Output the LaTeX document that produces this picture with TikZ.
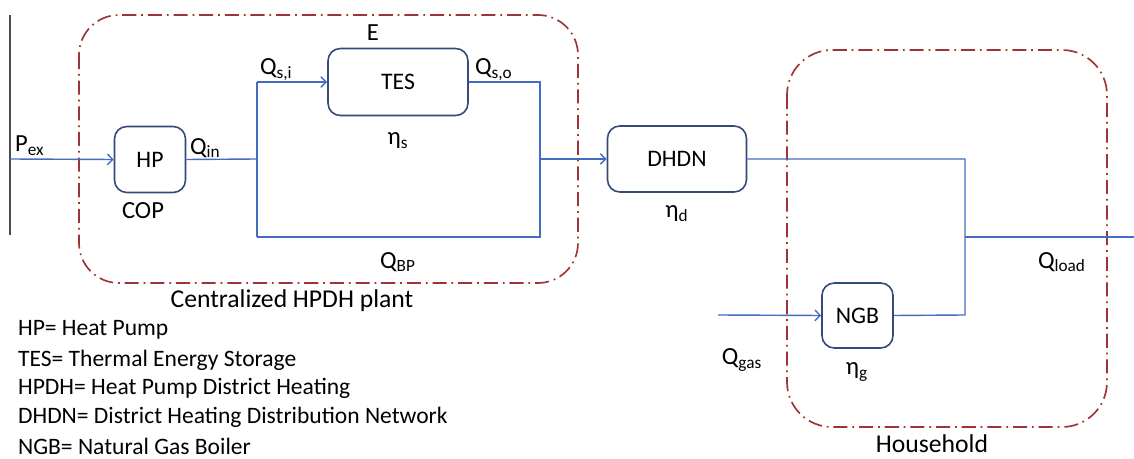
\documentclass[tikz,border=0pt]{standalone}
\usepackage{fontspec}
\setmainfont{Carlito}
\usepackage{tikz}
\usetikzlibrary{arrows.meta}
\definecolor{figflow}{RGB}{68,108,196}
\definecolor{figbox}{RGB}{52,74,120}
\definecolor{figgrp}{RGB}{160,52,52}
\tikzset{
  blk/.style ={draw=figbox, line width=0.9pt, rounded corners=7pt, font=\fontsize{13.5}{15}\selectfont},
  flw/.style ={draw=figflow, line width=0.8pt},
  fla/.style ={flw, -{Straight Barb[length=3pt,width=6pt]}},
  grp/.style ={draw=figgrp, line width=0.95pt, dash pattern=on 8pt off 2.8pt on 1pt off 2.8pt},
  lab/.style ={font=\fontsize{14}{16}\selectfont, inner sep=1pt},
  labl/.style={font=\fontsize{14.6}{16}\selectfont, inner sep=1pt},
  leg/.style ={font=\fontsize{13.4}{15}\selectfont, inner sep=1pt, anchor=west},
}
\begin{document}
\begin{tikzpicture}[x=0.02cm, y=-0.02cm]
  \useasboundingbox (0,0) rectangle (1134,459);
  % groups
  \draw[grp, rounded corners=0.8cm] (79,15) rectangle (578,283);
  \draw[grp, rounded corners=0.9cm] (787,50) rectangle (1107,427);
  \node[labl] (plant) at (292,301) {Centralized HPDH plant};
  \node[labl] (house) at (932,444) {Household};
  % blocks
  \node[blk, minimum width=1.42cm, minimum height=1.32cm] (hp)   at (150,159.5) {HP};
  \node[blk, minimum width=2.80cm, minimum height=1.34cm] (tes)  at (398,82)    {TES};
  \node[blk, minimum width=2.78cm, minimum height=1.32cm] (dhdn) at (677,159)   {DHDN};
  \node[blk, minimum width=1.42cm, minimum height=1.30cm] (ngb)  at (857.5,315.5) {NGB};
  % grid side
  \coordinate (gtop) at (10,15);
  \coordinate (gbot) at (10,235);
  \draw[draw=black!70, line width=0.7pt] (gtop) -- (gbot);
  % branch points
  \coordinate (j1)  at (257,159);
  \coordinate (j1t) at (257,82);
  \coordinate (j1b) at (257,237);
  \coordinate (j2t) at (540,82);
  \coordinate (j2b) at (540,237);
  \coordinate (j2)  at (540,159);
  \coordinate (jd)  at (965,159);
  \coordinate (jl)  at (965,237);
  \coordinate (jg)  at (965,315);
  \coordinate (pex) at (10,159);
  \coordinate (gas) at (718,315);
  \coordinate (load) at (1134,237);
  % flows
  \draw[fla] (pex) -- (hp.west);
  \draw[flw] (hp.east) -- (j1);
  \draw[flw] (j1b) -- (j1t);
  \draw[fla] (j1t) -- (tes.west);
  \draw[flw] (tes.east) -- (j2t) -- (j2b) -- (j1b);
  \draw[fla] (j2) -- (dhdn.west);
  \draw[flw] (dhdn.east) -- (jd) -- (jg) -- (ngb.east);
  \draw[fla] (gas) -- (ngb.west);
  \draw[flw] (jl) -- (load);
  % labels
  \node[lab, anchor=west] (lpex) at (13,146) {P\textsubscript{ex}};
  \node[lab, anchor=west] (lqin) at (188,148) {Q\textsubscript{in}};
  \node[lab, anchor=west] (lqsi) at (258,70) {Q\textsubscript{s,i}};
  \node[lab, anchor=west] (lqso) at (473,70) {Q\textsubscript{s,o}};
  \node[lab] (le)    at (373,33)  {E};
  \node[lab] (letas) at (398,141) {η\textsubscript{s}};
  \node[lab] (lqbp)  at (398,262) {Q\textsubscript{BP}};
  \node[lab] (lcop)  at (143,211) {COP};
  \node[lab] (letad) at (677,214) {η\textsubscript{d}};
  \node[lab] (letag) at (857,372) {η\textsubscript{g}};
  \node[lab] (lqgas) at (742,360) {Q\textsubscript{gas}};
  \node[lab] (lqld)  at (1062,262) {Q\textsubscript{load}};
  % legend
  \node[leg] (k1) at (16,330) {HP= Heat Pump};
  \node[leg] (k2) at (16,360) {TES= Thermal Energy Storage};
  \node[leg] (k3) at (16,388) {HPDH= Heat Pump District Heating};
  \node[leg] (k4) at (16,417) {DHDN= District Heating Distribution Network};
  \node[leg] (k5) at (16,446) {NGB= Natural Gas Boiler};
\end{tikzpicture}
\end{document}
